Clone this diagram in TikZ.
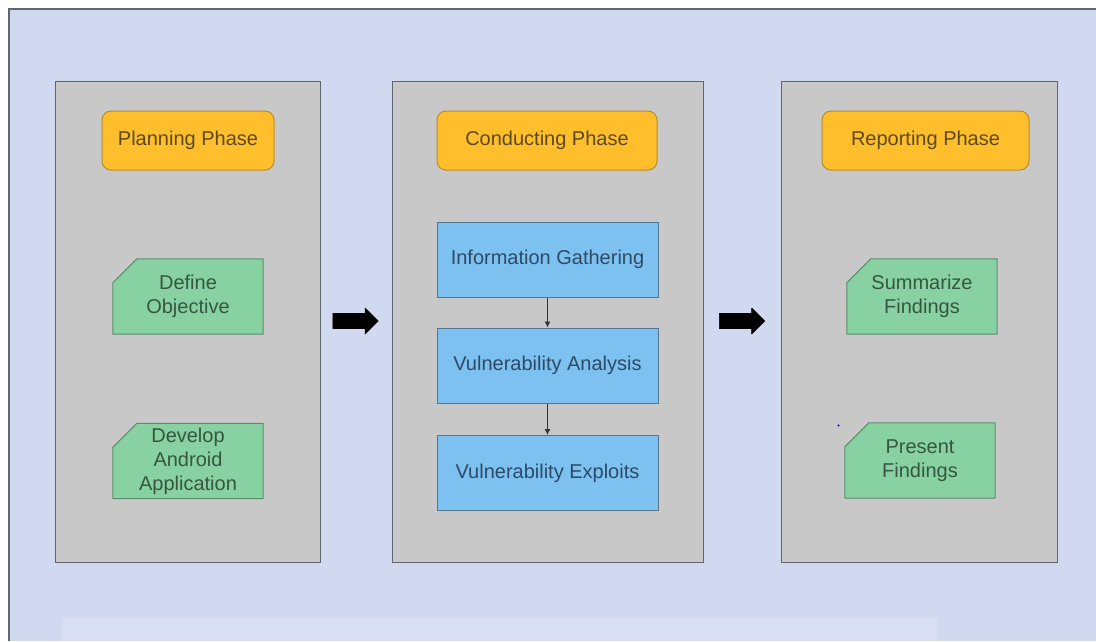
\documentclass[tikz,border=0pt]{standalone}
\usepackage{fontspec}
\setmainfont{Liberation Sans}
\usetikzlibrary{arrows.meta}
\definecolor{bgblue}{HTML}{D0D9F0}
\definecolor{stripc}{HTML}{D9DFF3}
\definecolor{panelc}{HTML}{C8C8C8}
\definecolor{paneld}{HTML}{5E6670}
\definecolor{orangec}{HTML}{FFBE2C}
\definecolor{oranged}{HTML}{B58E2E}
\definecolor{orangetxt}{HTML}{5C4A1E}
\definecolor{greenc}{HTML}{88D1A2}
\definecolor{greend}{HTML}{5B8E6B}
\definecolor{greentxt}{HTML}{36573F}
\definecolor{bluec}{HTML}{7DC1F1}
\definecolor{blued}{HTML}{56768F}
\definecolor{bluetxt}{HTML}{2D4A66}
\tikzset{
  panel/.style={draw=paneld, line width=1.2pt, fill=panelc, anchor=north west, inner sep=0pt},
  phasebox/.style={draw=oranged, line width=1pt, fill=orangec, rounded corners=9pt, minimum height=59pt, font=\fontsize{20}{24}\selectfont, text=orangetxt},
  card/.style={minimum width=150pt, minimum height=75pt, inner sep=0pt, align=center, font=\fontsize{20}{24}\selectfont, text=greentxt},
  cardshape/.style={draw=greend, line width=1pt, fill=greenc},
  stepbox/.style={draw=blued, line width=1pt, fill=bluec, minimum width=221pt, minimum height=75pt, inner sep=0pt, font=\fontsize{20}{24}\selectfont, text=bluetxt},
  bigarrow/.style={fill=black, draw=black, line width=0.6pt, line join=round},
  flow/.style={draw=black!80, line width=0.9pt, -{Latex[length=6pt,width=6pt]}}
}
\newcommand{\cardpath}[1]{%
  \path[cardshape] ([yshift=-24pt]#1.north west) -- ([xshift=24pt]#1.north west) -- (#1.north east) -- (#1.south east) -- (#1.south west) -- cycle;}
\newcommand{\blockarrow}[1]{%
  \path[bigarrow] ([yshift=-7.5pt]#1.west) -- ([xshift=-13pt,yshift=-7.5pt]#1.east) -- ([xshift=-13pt,yshift=-13pt]#1.east) -- (#1.east) -- ([xshift=-13pt,yshift=13pt]#1.east) -- ([xshift=-13pt,yshift=7.5pt]#1.east) -- ([yshift=7.5pt]#1.west) -- cycle;}
\begin{document}
\begin{tikzpicture}[x=1pt,y=-1pt]
\useasboundingbox (0,0) rectangle (1096,641);
\fill[white] (0,0) rectangle (1096,641);
\fill[bgblue] (9,9) rectangle (1096,641);
\draw[paneld, line width=1.2pt] (9,641) -- (9,9) -- (1096,9);
\fill[stripc] (62,618) rectangle (937,641);
% panels
\node[panel, minimum width=265pt, minimum height=481pt] (p1) at (55,81) {};
\node[panel, minimum width=311pt, minimum height=481pt] (p2) at (392,81) {};
\node[panel, minimum width=276pt, minimum height=481pt] (p3) at (781,81) {};
% phase titles
\node[phasebox, minimum width=172pt] (plan) at (188,140.5) {Planning Phase};
\node[phasebox, minimum width=220pt] (cond) at (547,140.5) {Conducting Phase};
\node[phasebox, minimum width=207pt] (rep) at (925.5,140.5) {Reporting Phase};
% card outlines (drawn from named placeholder nodes)
\path (188,296.5) node[card] (def) {};
\path (188,461) node[card] (dev) {};
\path (922,296.5) node[card] (sum) {};
\path (920,460.5) node[card] (pre) {};
\cardpath{def}\cardpath{dev}\cardpath{sum}\cardpath{pre}
\node[card] at (def) {Define\\Objective};
\node[card] at (dev) {Develop\\Android\\Application};
\node[card] at (sum) {Summarize\\Findings};
\node[card] at (pre) {Present\\Findings};
% conducting steps
\node[stepbox] (info) at (547.5,259.5) {Information Gathering};
\node[stepbox] (vana) at (547.5,365.5) {Vulnerability Analysis};
\node[stepbox] (vexp) at (547.5,473) {Vulnerability Exploits};
\draw[flow] (info) -- (vana);
\draw[flow] (vana) -- (vexp);
% big arrows
\node[minimum width=45pt, minimum height=26pt, inner sep=0pt] (a1) at (355.5,321) {};
\node[minimum width=45pt, minimum height=26pt, inner sep=0pt] (a2) at (742,321) {};
\blockarrow{a1}\blockarrow{a2}
\fill[blue!60!black] (838.5,425.5) circle (1.1pt);
\end{tikzpicture}
\end{document}
